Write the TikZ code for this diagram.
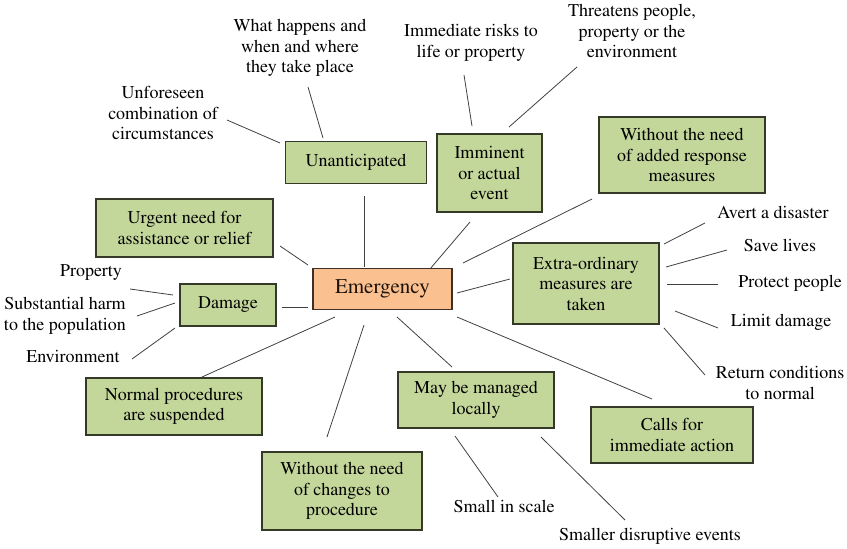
\documentclass[tikz,border=0pt]{standalone}
\usepackage[T1]{fontenc}
\usepackage{times}
\definecolor{boxgreen}{HTML}{C4D79B}
\definecolor{boxorange}{HTML}{FAC090}
\definecolor{edgegreen}{HTML}{353A28}
\definecolor{edgebrown}{HTML}{3E3026}
\tikzset{
  mainbox/.style={draw=edgebrown, line width=1.2pt, fill=boxorange, align=center, inner sep=0pt,
    font=\fontsize{21}{24}\selectfont, text=black!85!brown},
  idea/.style={draw=edgegreen, line width=1.2pt, fill=boxgreen, align=center, inner sep=0pt,
    font=\fontsize{18}{20.5}\selectfont},
  note/.style={align=center, inner sep=0pt, font=\fontsize{18}{20.5}\selectfont},
  link/.style={draw=black!75, line width=0.8pt}
}
\begin{document}
\begin{tikzpicture}[x=1pt, y=1pt]
        \useasboundingbox (0, 0) rectangle (847, -549);

        % centre
        \node[mainbox, minimum width=139, minimum height=41] (emerg) at (382.5, -289) {Emergency};

        % boxes round it
        \node[idea, minimum width=141, minimum height=42] (unant)    at (356, -162.5) {Unanticipated};
        \node[idea, minimum width=177, minimum height=58] (urgent)   at (184.5, -228) {Urgent need for\\assistance or relief};
        \node[idea, minimum width=96,  minimum height=42] (damage)   at (228, -305) {Damage};
        \node[idea, minimum width=176, minimum height=57] (normal)   at (174, -406.5) {Normal procedures\\are suspended};
        \node[idea, minimum width=160, minimum height=78] (nochange) at (342, -491) {Without the need\\of changes to\\procedure};
        \node[idea, minimum width=156, minimum height=56] (local)    at (476, -400) {May be managed\\locally};
        \node[idea, minimum width=162, minimum height=56] (calls)    at (672, -435) {Calls for\\immediate action};
        \node[idea, minimum width=146, minimum height=81] (extra)    at (586, -283.5) {Extra-ordinary\\measures are\\taken};
        \node[idea, minimum width=166, minimum height=76] (added)    at (682, -155) {Without the need\\of added response\\measures};
        \node[idea, minimum width=105, minimum height=78] (imminent) at (489.5, -173) {Imminent\\or actual\\event};

        % loose texts
        \node[note] (what)     at (300, -48)  {What happens and\\when and where\\they take place};
        \node[note] (unforeseen) at (163, -113) {Unforeseen\\combination of\\circumstances};
        \node[note] (risks)    at (471, -43)  {Immediate risks to\\life or property};
        \node[note] (threat)   at (632, -31)  {Threatens people,\\property or the\\environment};
        \node[note] (avert)    at (773, -212) {Avert a disaster};
        \node[note] (save)     at (780, -245) {Save lives};
        \node[note] (protect)  at (790, -283) {Protect people};
        \node[note] (limit)    at (781, -322) {Limit damage};
        \node[note] (return)   at (780, -383) {Return conditions\\to normal};
        \node[note] (small)    at (504, -506) {Small in scale};
        \node[note] (smaller)  at (650, -536) {Smaller disruptive events};
        \node[note] (property) at (91, -273)  {Property};
        \node[note] (harm)     at (65, -316)  {Substantial harm\\to the population};
        \node[note] (environ)  at (73, -356)  {Environment};

        % lines from the centre
        \draw[link] ([shift={(-18.5,22)}]emerg.center)  -- ([shift={(8,-33.5)}]unant.center);
        \draw[link] ([shift={(-74.5,24)}]emerg.center)  -- ([shift={(95.5,-18)}]urgent.center);
        \draw[link] ([shift={(47.5,20)}]emerg.center)   -- ([shift={(-19.5,-49)}]imminent.center);
        \draw[link] ([shift={(80.5,26)}]emerg.center)   -- ([shift={(-90,-44)}]added.center);
        \draw[link] ([shift={(74.5,-4)}]emerg.center)   -- ([shift={(-76,4.5)}]extra.center);
        \draw[link] ([shift={(74.5,-28)}]emerg.center)  -- ([shift={(-20,36)}]calls.center);
        \draw[link] ([shift={(14.5,-28)}]emerg.center)  -- ([shift={(-24,33)}]local.center);
        \draw[link] ([shift={(-18.5,-36)}]emerg.center) -- ([shift={(-15,54)}]nochange.center);
        \draw[link] ([shift={(-47.5,-28)}]emerg.center) -- ([shift={(28,29.5)}]normal.center);
        \draw[link] ([shift={(-74.5,-18)}]emerg.center) -- ([shift={(54,-2)}]damage.center);

        % lines to the loose texts
        \draw[link] ([shift={(-76,19.5)}]unant.center)   -- ([shift={(64,-7)}]unforeseen.center);
        \draw[link] ([shift={(-33,24.5)}]unant.center)   -- ([shift={(8,-39)}]what.center);
        \draw[link] ([shift={(-17.5,47)}]imminent.center) -- ([shift={(-7,-32)}]risks.center);
        \draw[link] ([shift={(19.5,46)}]imminent.center) -- ([shift={(-55,-36)}]threat.center);
        \draw[link] ([shift={(78,39.5)}]extra.center)    -- ([shift={(-68,-11)}]avert.center);
        \draw[link] ([shift={(80,16.5)}]extra.center)    -- ([shift={(-53,-5)}]save.center);
        \draw[link] ([shift={(81,-0.5)}]extra.center)    -- ([shift={(-72,-1)}]protect.center);
        \draw[link] ([shift={(89,-27.5)}]extra.center)   -- ([shift={(-63,-6)}]limit.center);
        \draw[link] ([shift={(78,-44.5)}]extra.center)   -- ([shift={(-75,8)}]return.center);
        \draw[link] ([shift={(-21,-36)}]local.center)    -- ([shift={(-6,9)}]small.center);
        \draw[link] ([shift={(65,-37)}]local.center)     -- ([shift={(-25,16)}]smaller.center);
        \draw[link] ([shift={(-55,10)}]damage.center)    -- ([shift={(39,-16)}]property.center);
        \draw[link] ([shift={(-53,2)}]damage.center)     -- ([shift={(72,0)}]harm.center);
        \draw[link] ([shift={(-53,-23)}]damage.center)   -- ([shift={(59,-3)}]environ.center);
    \end{tikzpicture}
\end{document}
